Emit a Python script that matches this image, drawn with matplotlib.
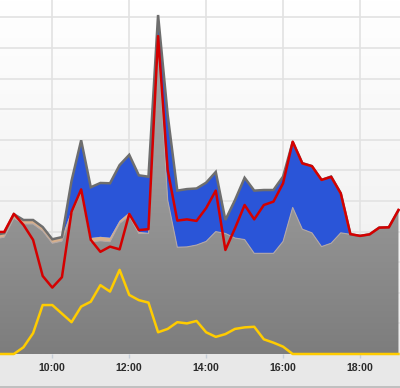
import matplotlib
matplotlib.use('Agg')
import matplotlib.pyplot as plt
import numpy as np
from matplotlib.colors import LinearSegmentedColormap
from matplotlib.lines import Line2D

times = ["08:30", "08:45", "09:00", "09:15", "09:30", "09:45", "10:00", "10:15",
         "10:30", "10:45", "11:00", "11:15", "11:30", "11:45", "12:00", "12:15",
         "12:30", "12:45", "13:00", "13:15", "13:30", "13:45", "14:00", "14:15",
         "14:30", "14:45", "15:00", "15:15", "15:30", "15:45", "16:00", "16:15",
         "16:30", "16:45", "17:00", "17:15", "17:30", "17:45", "18:00", "18:15",
         "18:30", "18:45", "19:00"]

grey_base = [37.6, 38.2, 44.4, 42.5, 42.5, 40.2, 36.2, 36.9, 45.8, 52.9, 36.6, 37.0,
             36.7, 42.7, 45.1, 39.4, 39.4, 101.0, 50.3, 34.9, 35.0, 35.6, 36.8, 40.0,
             39.4, 37.9, 37.4, 32.9, 32.9, 32.9, 36.8, 47.9, 40.8, 39.6, 35.1, 36.2,
             39.6, 39.1, 38.6, 39.1, 41.3, 41.4, 46.9]

tan_layer = [1.3, 1.3, 1.3, 1.3, 1.3, 1.3, 1.3, 1.3, 1.0, 0.65, 1.3, 1.3,
             1.3, 0.85, 1.1, 0.5, 0.15, 0, 0, 0, 0, 0, 0, 0,
             0, 0, 0, 0, 0, 0, 0, 0, 0, 0, 0, 0,
             0, 0, 0, 0, 0, 0, 0]

blue_layer = [0, 0, 0, 0, 0, 0, 0, 0, 9.8, 16.3, 16.6, 17.6,
              17.8, 18.2, 18.9, 18.5, 18.4, 9.8, 27.8, 18.5, 18.9, 18.5, 19.2, 19.5,
              4.4, 12.4, 20.2, 20.5, 20.7, 20.7, 21.2, 21.4, 21.6, 21.8, 21.8, 21.8,
              12.9, 0, 0, 0, 0, 0, 0]

red_line = [39.9, 39.9, 45.8, 42.2, 37.3, 25.5, 21.7, 25.1, 46.5, 53.8, 37.3, 33.4,
            35.1, 34.2, 45.8, 40.5, 40.8, 103.9, 60.1, 43.6, 44.0, 43.5, 47.7, 53.4,
            34.0, 41.1, 48.7, 44.0, 48.7, 49.8, 55.8, 69.4, 62.3, 61.4, 56.9, 57.9,
            52.5, 39.2, 38.6, 39.1, 41.3, 41.4, 47.1]

yellow_line = [0, 0, 0, 2.2, 6.8, 16.0, 16.0, 13.2, 10.4, 15.5, 17.1, 22.5,
               20.4, 27.5, 19.3, 17.6, 16.8, 7.1, 8.2, 10.4, 10.0, 10.8, 7.1, 5.6,
               6.5, 8.2, 8.7, 8.9, 4.8, 3.7, 2.4, 0, 0, 0, 0, 0,
               0, 0, 0, 0, 0, 0, 0]

tick_values = [10, 12, 14, 16, 18]
tick_labels = ["10:00", "12:00", "14:00", "16:00", "18:00"]


def to_hours(s):
    h, m = s.split(':')
    return int(h) + int(m) / 60.0


x = np.array([to_hours(t) for t in times])
g = np.array(grey_base)
t1 = g + np.array(tan_layer)
top = t1 + np.array(blue_layer)

XMIN, XMAX, YMAX = 8.64, 19.04, 115.7

fig = plt.figure(figsize=(4.0, 3.88), dpi=100, facecolor='#e8e8e8')
ax = fig.add_axes([0, 34 / 388, 1, 354 / 388])
ax.set_xlim(XMIN, XMAX)
ax.set_ylim(0, YMAX)

grad = np.linspace(0, 1, 256).reshape(-1, 1)
bg_cmap = LinearSegmentedColormap.from_list('bg', ['#ececec', '#ffffff'])
ax.imshow(grad, extent=[XMIN, XMAX, 0, YMAX], origin='lower', aspect='auto',
          cmap=bg_cmap, zorder=0)

ax.set_yticks(np.arange(10, 120, 10))
ax.set_xticks(tick_values)
ax.set_xticklabels(tick_labels)
ax.set_axisbelow(True)
ax.grid(True, color='#e2e2e2', lw=1.2, zorder=0.5)
ax.tick_params(axis='y', left=False, labelleft=False)
ax.tick_params(axis='x', length=3, width=1, color='#c5ced8', pad=3.8,
               labelsize=7.6, labelcolor='#2a2a2a')
for lab in ax.get_xticklabels():
    lab.set_fontfamily('Liberation Sans')
    lab.set_fontweight('bold')
for s in ax.spines.values():
    s.set_visible(False)

# grey base area with gradient
poly = ax.fill_between(x, 0, g, color='none', lw=0, zorder=2)
grey_cmap = LinearSegmentedColormap.from_list('gr', ['#7d7d7d', '#9a9a9a', '#aaaaaa'])
im = ax.imshow(grad, extent=[XMIN, XMAX, 0, YMAX], origin='lower', aspect='auto',
               cmap=grey_cmap, zorder=2)
im.set_clip_path(poly.get_paths()[0], transform=ax.transData)

ax.fill_between(x, g, t1, color='#d8b08c', lw=0, zorder=3)
ax.fill_between(x, t1, top, color='#2a55d8', lw=0, zorder=3)
ax.plot(x, g, color='#b4a8a6', lw=0.8, zorder=4)
ax.plot(x, top, color='#6e6e6e', lw=1.8, zorder=4, solid_joinstyle='miter')
ax.plot(x, red_line, color='#d40000', lw=1.8, zorder=5)
ax.plot(x, yellow_line, color='#ffcc00', lw=1.8, zorder=5, clip_on=False)

fig.add_artist(Line2D([0, 1], [0.6 / 388, 0.6 / 388], color='#b8b8b8', lw=1.2))

fig.savefig('out.png', dpi=100, facecolor=fig.get_facecolor())
